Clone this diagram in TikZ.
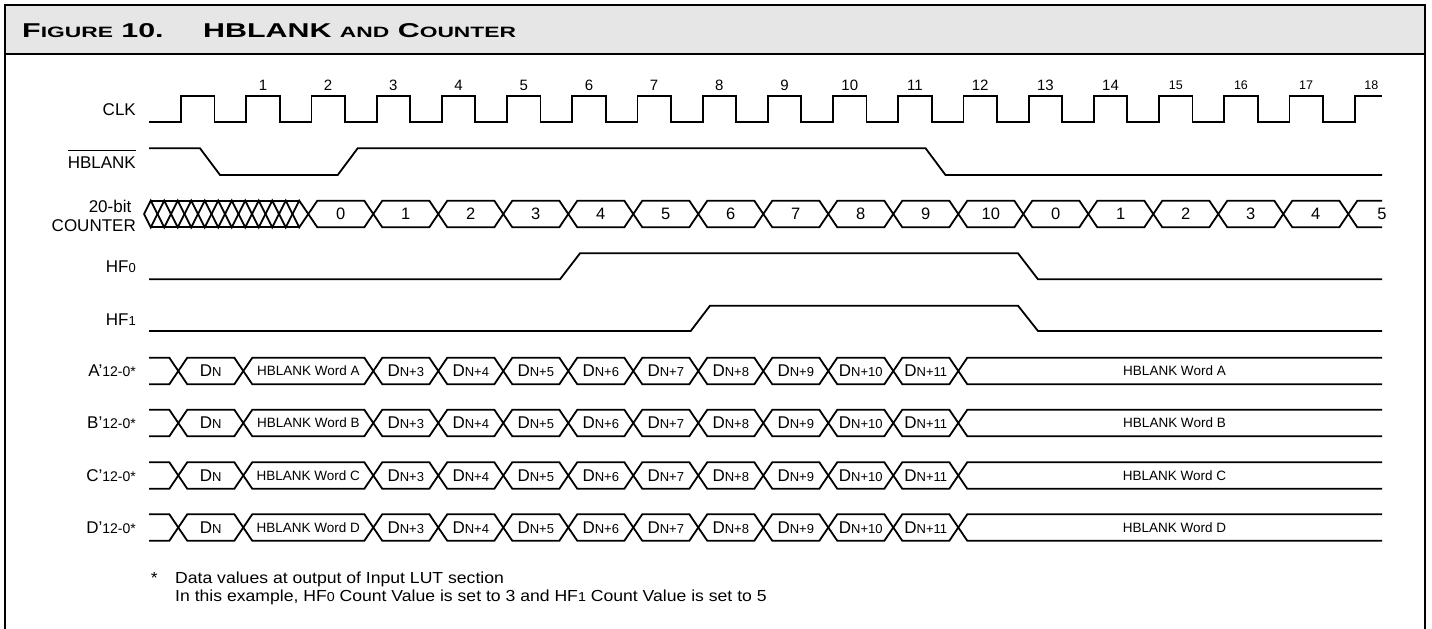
\documentclass[tikz,border=0pt]{standalone}
\usepackage{fontspec}
\setmainfont{Liberation Sans}
\newfontfamily\headfont[FakeStretch=1.52]{Liberation Sans Bold}
\newfontfamily\notefont[FakeStretch=1.1]{Liberation Sans}
\usetikzlibrary{positioning}
\definecolor{headgray}{HTML}{E6E6E6}
\newcommand{\fsz}[1]{\fontsize{#1}{#1}\selectfont}
\newcommand{\smalltxt}[1]{{\fsz{13}#1}}
\newcommand{\dword}[1]{D{\fsz{13}N#1}}

\begin{document}
\begin{tikzpicture}[x=1pt,y=-1pt,
    trace/.style={line width=1.8pt,line join=miter},
    lbl/.style={anchor=east,inner sep=0pt,font=\fsz{17}},
    val/.style={inner sep=0pt,font=\fsz{16.5}},
    bustxt/.style={inner sep=0pt,font=\fsz{17}},
    wordtxt/.style={inner sep=0pt,font=\fsz{13.5}},
    head/.style={anchor=base west,inner sep=0pt,font=\headfont\fsz{20}},
    note/.style={anchor=base west,inner sep=0pt,font=\notefont\fsz{16}}]
  \useasboundingbox (0,0) rectangle (1432,629);
  % frame and title
  \fill[headgray] (5,5) rectangle (1425,54);
  \draw[line width=2.6pt] (5,640) -- (5,5) -- (1425,5) -- (1425,640);
  \draw[line width=2.4pt] (5,54) -- (1425,54);
  \node[head] (fig) at (22,37) {F{\fsz{15}IGURE} 10.};
  \node[head] (title) at (203,37) {HBLANK {\fsz{15}AND} C{\fsz{15}OUNTER}};

  % CLK
  \node[lbl] (clk) at (136,110) {CLK};
  \draw[trace] (149,121.7) \foreach \k in {0,...,17} { -- ({181+65.2*\k},121.7) -- ++(0,-25.7) -- ++(33.5,0) -- ++(0,25.7) } -- (1354.6,121.7) -- ++(0,-25.7) -- (1382,96);
  \foreach \k in {1,...,18} {
    \pgfmathsetmacro\ckfs{\k<15 ? 15 : 12.5}
    \node[inner sep=0pt,font=\fsz{\ckfs}] (ck\k) at ({197.75+65.2*\k},85) {\k};
  }

  % HBLANK
  \node[lbl] (hbl) at (136,163) {HBLANK};
  \draw[line width=1.2pt] ([yshift=6.5pt]hbl.north west) -- ([yshift=6.5pt]hbl.north east);
  \draw[trace] (149,148.3) -- (200,148.3) -- (220,175) -- (337.7,175) -- (357.7,148.3) -- (925.6,148.3) -- (945.5,175) -- (1382,175);

  % 20-bit counter
  \node[lbl] (cnt) at (131.5,206) {20-bit};
  \node[lbl] (cntb) at (136,226) {COUNTER};
  \draw[trace] (144,214) \foreach \i in {0,...,11} { -- ({150.75+13.5*\i},{214-13.3*(1-2*mod(\i,2))}) } -- (308.3,214);
  \draw[trace] (144,214) \foreach \i in {0,...,11} { -- ({150.75+13.5*\i},{214+13.3*(1-2*mod(\i,2))}) } -- (308.3,214);
  \draw[trace] (150.75,200.7) -- (299.25,200.7) (150.75,227.3) -- (299.25,227.3);
  \foreach \j in {0,...,15} {
    \pgfmathsetmacro\xa{308.3+65*\j}
    \pgfmathtruncatemacro\cv{\j<11 ? \j : \j-11}
    \draw[trace] (\xa+9,200.7) -- (\xa+56,200.7) -- (\xa+65,214) -- (\xa+56,227.3) -- (\xa+9,227.3) -- (\xa,214) -- cycle;
    \node[val] (c\j) at (\xa+32.5,214) {\cv};
  }
  \draw[trace] (1382,200.7) -- (1357.3,200.7) -- (1348.3,214) -- (1357.3,227.3) -- (1382,227.3);
  \node[val] (c16) at (1382,214) {5};

  % HF0 and HF1
  \node[lbl] (hf0) at (136,266.7) {HF\smalltxt{0}};
  \draw[trace] (149,279.3) -- (560,279.3) -- (580,253.3) -- (1018,253.3) -- (1038,279.3) -- (1382,279.3);
  \node[lbl] (hf1) at (136,320) {HF\smalltxt{1}};
  \draw[trace] (149,331) -- (690.7,331) -- (710,305.7) -- (1018,305.7) -- (1038,331) -- (1382,331);

  % data buses
  \foreach \bus/\yc in {A/371,B/423,C/475.5,D/527.5} {
    \node[lbl] (l\bus) at (136,\yc) {\bus'{\fsz{14}12-0*}};
    \draw[trace] (149,\yc-13.3) -- (169.3,\yc-13.3) -- (178.3,\yc) -- (169.3,\yc+13.3) -- (149,\yc+13.3);
    \draw[trace] (187.3,\yc-13.3) -- (234.3,\yc-13.3) -- (243.3,\yc) -- (234.3,\yc+13.3) -- (187.3,\yc+13.3) -- (178.3,\yc) -- cycle;
    \node[bustxt] (dn\bus) at (210.8,\yc) {\dword{}};
    \draw[trace] (252.3,\yc-13.3) -- (364.3,\yc-13.3) -- (373.3,\yc) -- (364.3,\yc+13.3) -- (252.3,\yc+13.3) -- (243.3,\yc) -- cycle;
    \node[wordtxt] (w\bus) at (308.3,\yc) {HBLANK Word \bus};
    \foreach \k in {1,...,9} {
      \pgfmathsetmacro\xa{308.3+65*\k}
      \pgfmathtruncatemacro\nn{\k+2}
      \draw[trace] (\xa+9,\yc-13.3) -- (\xa+56,\yc-13.3) -- (\xa+65,\yc) -- (\xa+56,\yc+13.3) -- (\xa+9,\yc+13.3) -- (\xa,\yc) -- cycle;
      \node[bustxt] (d\bus\k) at (\xa+32.5,\yc) {\dword{+\nn}};
    }
    \draw[trace] (1382,\yc-13.3) -- (967.3,\yc-13.3) -- (958.3,\yc) -- (967.3,\yc+13.3) -- (1382,\yc+13.3);
    \node[wordtxt] (t\bus) at (1174.5,\yc) {HBLANK Word \bus};
  }

  % footnote
  \node[note] (note1) at (175,583) {Data values at output of Input LUT section};
  \node[note] (note2) at (175,601) {In this example, HF\smalltxt{0} Count Value is set to 3 and HF\smalltxt{1} Count Value is set to 5};
  \node[note,anchor=base east] (star) at (158,583) {*};
\end{tikzpicture}
\end{document}
